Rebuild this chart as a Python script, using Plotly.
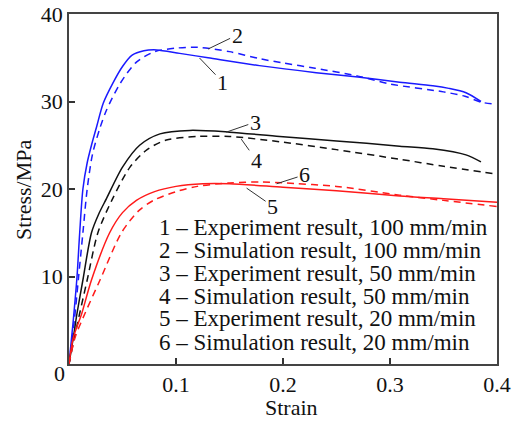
import plotly.graph_objects as go

# ---- data ----
exp100_strain = [0, 0.004, 0.0075, 0.010, 0.013, 0.017, 0.021, 0.026, 0.032, 0.041, 0.050, 0.059, 0.070, 0.082, 0.1035, 0.13, 0.178, 0.231, 0.27, 0.309, 0.34, 0.355, 0.371, 0.385]
exp100_stress = [0, 5, 10, 15, 20, 23, 25, 27.2, 29.8, 32.1, 34.0, 35.3, 35.8, 35.9, 35.5, 35.0, 34.1, 33.3, 32.8, 32.2, 31.8, 31.5, 31.0, 30.0]

sim100_strain = [0, 0.005, 0.009, 0.013, 0.017, 0.022, 0.029, 0.035, 0.048, 0.063, 0.08, 0.1, 0.12, 0.15, 0.178, 0.2, 0.23, 0.27, 0.3, 0.35, 0.37, 0.386, 0.4]
sim100_stress = [0, 5, 10, 15, 20, 24, 27, 29, 32.1, 34.5, 35.7, 36.1, 36.2, 35.7, 34.9, 34.4, 33.8, 32.9, 32.0, 31.1, 30.6, 29.9, 29.7]

exp50_strain = [0, 0.004, 0.0075, 0.013, 0.021, 0.028, 0.035, 0.050, 0.066, 0.085, 0.113, 0.15, 0.197, 0.25, 0.309, 0.34, 0.371, 0.385]
exp50_stress = [0, 3, 5.8, 9.6, 15, 17.2, 18.9, 22.5, 25.0, 26.3, 26.7, 26.5, 26.0, 25.5, 24.9, 24.6, 23.9, 23.1]

sim50_strain = [0, 0.005, 0.010, 0.017, 0.027, 0.040, 0.057, 0.073, 0.091, 0.12, 0.15, 0.197, 0.25, 0.309, 0.35, 0.4]
sim50_stress = [0, 3, 5.8, 9.6, 15, 18.7, 22.5, 24.5, 25.6, 26.0, 26.0, 25.4, 24.5, 23.4, 22.6, 21.7]

exp20_strain = [0, 0.004, 0.012, 0.021, 0.038, 0.050, 0.063, 0.08, 0.1, 0.125, 0.15, 0.2, 0.25, 0.309, 0.35, 0.4]
exp20_stress = [0, 3, 5.8, 9.6, 15, 17.3, 18.7, 19.7, 20.3, 20.6, 20.6, 20.2, 19.8, 19.2, 18.9, 18.5]

sim20_strain = [0, 0.0056, 0.015, 0.029, 0.049, 0.065, 0.079, 0.1, 0.12, 0.15, 0.18, 0.2, 0.25, 0.309, 0.35, 0.4]
sim20_stress = [0, 3, 5.8, 9.6, 15, 17.5, 18.7, 19.7, 20.3, 20.7, 20.8, 20.7, 20.3, 19.3, 18.7, 18.0]

legend_numbers = ["1", "2", "3", "4", "5", "6"]
legend_texts = [
    "Experiment result, 100 mm/min",
    "Simulation result, 100 mm/min",
    "Experiment result, 50 mm/min",
    "Simulation result, 50 mm/min",
    "Experiment result, 20 mm/min",
    "Simulation result, 20 mm/min",
]
x_ticks = [0.1, 0.2, 0.3, 0.4]
x_ticktext = ["0.1", "0.2", "0.3", "0.4"]
y_ticks = [10, 20, 30, 40]

FONT = "Liberation Serif, Times New Roman, serif"
FS = 22
LFS = 23

series = [
    (exp100_strain, exp100_stress, "#1a1aff", "solid"),
    (sim100_strain, sim100_stress, "#1a1aff", "7px,5px"),
    (exp50_strain, exp50_stress, "#111111", "solid"),
    (sim50_strain, sim50_stress, "#111111", "7px,5px"),
    (exp20_strain, exp20_stress, "#ff1a1a", "solid"),
    (sim20_strain, sim20_stress, "#ff1a1a", "7px,5px"),
]

W, H = 515, 421
L, R, T, B = 69, 18, 14, 57
pw, ph = W - L - R, H - T - B


def px(x):
    return (x - L) / pw


def py(y):
    return 1 - (y - T) / ph


fig = go.Figure()
for xs, ys, c, d in series:
    fig.add_trace(go.Scatter(x=xs, y=ys, mode="lines",
                             line=dict(color=c, width=1.5, dash=d, shape="spline", smoothing=0.8),
                             showlegend=False, hoverinfo="skip"))

# numbered curve labels with leader lines
curve_labels = [
    ("1", 0.122, 34.97, 23, 24),
    ("2", 0.130, 36.0, 29, -14),
    ("3", 0.147, 26.5, 29, -10),
    ("4", 0.161, 25.7, 15, 21),
    ("5", 0.166, 20.1, 26, 18),
    ("6", 0.194, 20.6, 28, -9),
]
for t, x, y, ax, ay in curve_labels:
    fig.add_annotation(x=x, y=y, xref="x", yref="y", text=t, showarrow=True,
                       arrowhead=0, arrowwidth=1, arrowcolor="#333333",
                       ax=ax, ay=ay, standoff=0,
                       font=dict(family=FONT, size=FS, color="#111111"))

# text legend
row_y = [227, 250, 273, 296, 318, 342]
for num, lab, yy in zip(legend_numbers, legend_texts, row_y):
    txt = num + " \u2013 " + lab
    fig.add_annotation(x=px(157), y=py(yy), xref="paper", yref="paper", text=txt, showarrow=False,
                       xanchor="left", yanchor="middle",
                       font=dict(family=FONT, size=LFS, color="#111111"))

# axis titles
fig.add_annotation(x=px(291), y=py(407), xref="paper", yref="paper", text="Strain", showarrow=False,
                   xanchor="center", yanchor="middle", font=dict(family=FONT, size=FS, color="#111111"))
fig.add_annotation(x=px(23), y=py(190), xref="paper", yref="paper", text="Stress/MPa", showarrow=False,
                   textangle=-90, xanchor="center", yanchor="middle",
                   font=dict(family=FONT, size=FS, color="#111111"))

# the "0" at origin
fig.add_annotation(x=0, y=0, xref="x", yref="y", text="0", showarrow=False,
                   xanchor="right", yanchor="top", xshift=-2, yshift=5,
                   font=dict(family=FONT, size=FS, color="#111111"))

fig.update_layout(
    width=W, height=H,
    margin=dict(l=L, r=R, t=T, b=B, autoexpand=False),
    paper_bgcolor="white", plot_bgcolor="white",
    font=dict(family=FONT, size=FS, color="#111111"),
    xaxis=dict(range=[0, 0.4], tickvals=x_ticks, ticktext=x_ticktext,
               ticks="inside", ticklen=6, tickcolor="#333333", tickwidth=1.5,
               showline=True, linecolor="#444444", linewidth=1.5, mirror=True,
               showgrid=False, zeroline=False, automargin=False),
    yaxis=dict(range=[0, 40], tickvals=y_ticks,
               ticks="inside", ticklen=6, tickcolor="#333333", tickwidth=1.5,
               showline=True, linecolor="#444444", linewidth=1.5, mirror=True,
               showgrid=False, zeroline=False, automargin=False),
)

fig.write_html("out.html", config={"displayModeBar": False},
               post_script="document.body.style.margin='0';document.body.style.overflow='hidden';")
